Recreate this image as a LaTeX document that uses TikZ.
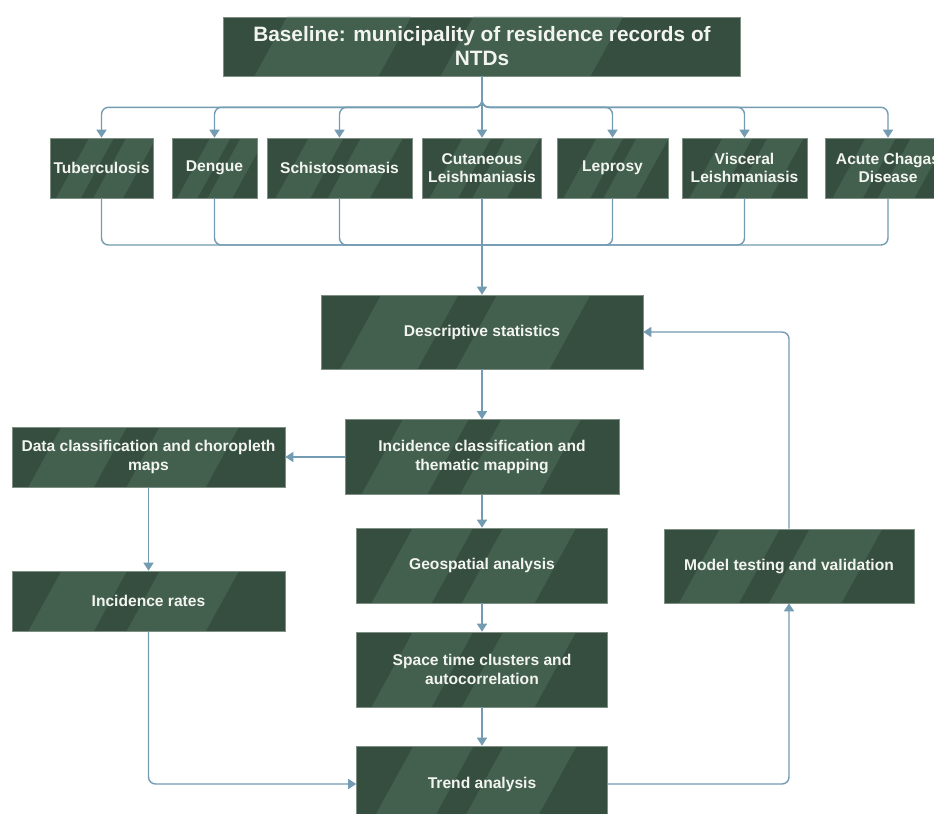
\documentclass[tikz,border=0pt]{standalone}
\usepackage{fontspec}
\setmainfont{Liberation Sans}
\usetikzlibrary{arrows.meta,calc}
\definecolor{boxdark}{RGB}{54,78,63}
\definecolor{boxlight}{RGB}{67,95,78}
\definecolor{boxedge}{RGB}{125,142,131}
\definecolor{conn}{RGB}{115,155,178}
\definecolor{txt}{RGB}{242,244,240}
\tikzset{
  bandfill/.style={
    path picture={
      \fill[boxlight] let \p1=(path picture bounding box.south west),
                \p2=(path picture bounding box.north east),
                \n1={\x2-\x1}, \n2={\y2-\y1} in
        (\x1+0.06*\n1,\y1) -- (\x1+0.30*\n1,\y1) -- (\x1+0.30*\n1+0.55*\n2,\y2) -- (\x1+0.06*\n1+0.55*\n2,\y2) -- cycle
        (\x1+0.42*\n1,\y1) -- (\x1+0.71*\n1,\y1) -- (\x1+0.71*\n1+0.55*\n2,\y2) -- (\x1+0.42*\n1+0.55*\n2,\y2) -- cycle;
    }
  },
  box/.style={draw=boxedge, line width=0.6bp, fill=boxdark, bandfill, text=txt,
    font=\bfseries\fontsize{15.6bp}{18.5bp}\selectfont, align=center, inner sep=0pt},
  link/.style={draw=conn, line width=1.4bp, rounded corners=7bp},
  arr/.style={link, -{Triangle[width=10bp,length=8bp]}}
}
\begin{document}
\begin{tikzpicture}[x=1bp,y=-1bp]
\useasboundingbox (0,0) rectangle (934,814);
\fill[white] (0,0) rectangle (934,814);
\clip (0,0) rectangle (934,814);

% top
\node[box, minimum width=517bp, minimum height=59bp,
  font=\bfseries\fontsize{20.8bp}{24bp}\selectfont] (top) at (482,46.5)
  {Baseline: municipality of residence records of\\NTDs};

% diseases
\node[box, minimum width=103bp, minimum height=60bp] (tb) at (101.5,168) {Tuberculosis};
\node[box, minimum width=85bp, minimum height=60bp] (dg) at (214.5,168) {Dengue};
\node[box, minimum width=145bp, minimum height=60bp] (sc) at (339.5,168) {Schistosomasis};
\node[box, minimum width=119bp, minimum height=60bp] (cl) at (482,168) {Cutaneous\\Leishmaniasis};
\node[box, minimum width=111bp, minimum height=60bp] (lp) at (612.5,168) {Leprosy};
\node[box, minimum width=125bp, minimum height=60bp] (vl) at (744.5,168) {Visceral\\Leishmaniasis};
\node[box, minimum width=126bp, minimum height=60bp] (ac) at (888,168) {Acute Chagas\\Disease};

% process boxes
\node[box, minimum width=322bp, minimum height=74bp] (desc) at (482,332) {Descriptive statistics};
\node[box, minimum width=274bp, minimum height=75bp] (inc) at (482,457) {Incidence classification and\\thematic mapping};
\node[box, minimum width=273bp, minimum height=60bp] (data) at (148.5,457) {Data classification and choropleth\\maps};
\node[box, minimum width=273bp, minimum height=60bp] (rates) at (148.5,601) {Incidence rates};
\node[box, minimum width=251bp, minimum height=75bp] (geo) at (482,565.5) {Geospatial analysis};
\node[box, minimum width=251bp, minimum height=75bp] (st) at (482,669.5) {Space time clusters and\\autocorrelation};
\node[box, minimum width=251bp, minimum height=76bp] (trend) at (482,784) {Trend analysis};
\node[box, minimum width=250bp, minimum height=74bp] (model) at (789,566) {Model testing and validation};

% top fan-out
\foreach \d in {tb,dg,sc,lp,vl,ac}{
  \draw[arr] (top.south) -- ++(0,31) -| (\d.north);
}
\draw[arr] (top.south) -- (cl.north);

% fan-in
\coordinate (mg) at (482,245);
\foreach \d in {tb,dg,sc,lp,vl,ac}{
  \draw[link] (\d.south) |- (mg);
}
\draw[arr] (cl.south) -- (desc.north);

% flow
\draw[arr] (desc.south) -- (inc.north);
\draw[arr] (inc.west) -- (data.east);
\draw[arr] (data.south) -- (rates.north);
\draw[arr] (inc.south) -- (geo.north);
\draw[arr] (geo.south) -- (st.north);
\draw[arr] (st.south) -- (trend.north);
\draw[arr] (rates.south) |- (trend.west);
\draw[arr] (trend.east) -| (model.south);
\draw[arr] (model.north) |- (desc.east);
\end{tikzpicture}
\end{document}
